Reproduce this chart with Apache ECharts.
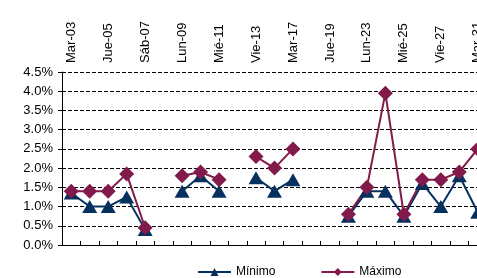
<!DOCTYPE html>
<html>
<head>
<meta charset="utf-8">
<script src="https://cdn.jsdelivr.net/npm/echarts@6/dist/echarts.min.js"></script>
<style>
  html, body { margin: 0; padding: 0; background: #fff; }
  #chart { width: 477px; height: 278px; }
</style>
</head>
<body>
<div id="chart"></div>
<script>
// días (solo se rotulan los pares)
const dias = ['Mar-03', 'Mié-04', 'Jue-05', 'Vie-06', 'Sáb-07', 'Dom-08', 'Lun-09', 'Mar-10',
  'Mié-11', 'Jue-12', 'Vie-13', 'Lun-16', 'Mar-17', 'Mié-18', 'Jue-19', 'Vie-20',
  'Lun-23', 'Mar-24', 'Mié-25', 'Jue-26', 'Vie-27', 'Lun-30', 'Mar-31'];

const minimo = [1.35, 1.0, 1.0, 1.25, 0.4, null, 1.4, 1.8, 1.4, null, 1.75, 1.4, 1.7, null, null, 0.75,
  1.4, 1.4, 0.75, 1.6, 1.0, 1.8, 0.85];
const maximo = [1.4, 1.4, 1.4, 1.85, 0.45, null, 1.8, 1.9, 1.7, null, 2.3, 2.0, 2.5, null, null, 0.8,
  1.5, 3.95, 0.8, 1.7, 1.7, 1.9, 2.5];

const AZUL = '#06315f';
const GRANATE = '#821a4b';

let chart = echarts.init(document.getElementById('chart'));

chart.setOption({
  animation: false,
  textStyle: { fontFamily: 'Liberation Sans, Arial, sans-serif' },
  grid: {
    left: 62,
    top: 72,
    bottom: 33,
    width: 425,
    outerBoundsMode: 'none',
    containLabel: false,
  },
  xAxis: {
    type: 'category',
    position: 'top',
    data: dias,
    boundaryGap: true,
    axisLine: { lineStyle: { color: '#000', width: 1 } },
    axisTick: { show: true, interval: 0, length: 4, lineStyle: { color: '#000' } },
    axisLabel: {
      interval: 1,
      rotate: 90,
      margin: 9,
      color: '#000',
      fontSize: 13,
      hideOverlap: false,
    },
    splitLine: { show: false },
  },
  yAxis: {
    type: 'value',
    min: 0,
    max: 4.5,
    interval: 0.5,
    axisLine: { show: true, lineStyle: { color: '#000', width: 1 } },
    axisTick: { show: true, length: 4, lineStyle: { color: '#000' } },
    axisLabel: {
      color: '#000',
      fontSize: 13,
      margin: 9,
      formatter: v => v.toFixed(1) + '%',
    },
    splitLine: {
      show: true,
      lineStyle: { color: '#000', type: [4, 2], width: 1 },
    },
  },
  legend: {
    left: 192,
    top: 261,
    itemWidth: 33,
    itemHeight: 10,
    itemGap: 45,
    textStyle: { fontSize: 12, color: '#000' },
    data: ['Mínimo', 'Máximo'],
  },
  series: [
    {
      name: 'Mínimo',
      type: 'line',
      data: minimo,
      symbol: 'triangle',
      symbolSize: [15, 13],
      showAllSymbol: true,
      itemStyle: { color: AZUL },
      lineStyle: { color: AZUL, width: 2 },
    },
    {
      name: 'Máximo',
      type: 'line',
      data: maximo,
      symbol: 'diamond',
      symbolSize: [15, 15],
      showAllSymbol: true,
      itemStyle: { color: GRANATE },
      lineStyle: { color: GRANATE, width: 2 },
    },
  ],
});
</script>
</body>
</html>
